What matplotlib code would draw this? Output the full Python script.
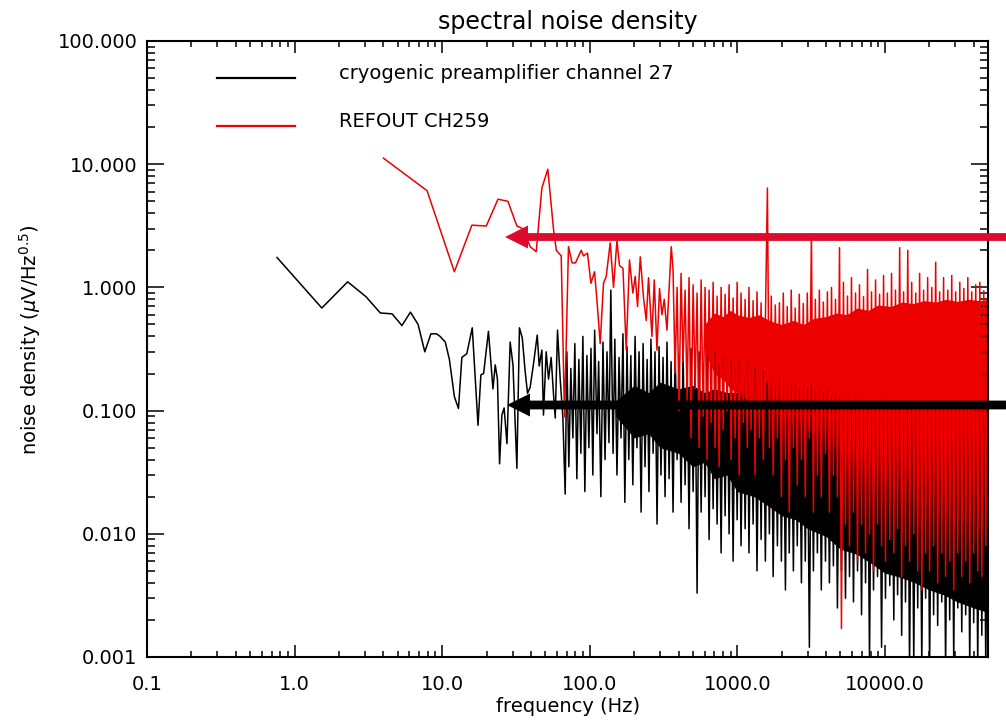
import matplotlib
matplotlib.use('Agg')
import matplotlib.pyplot as plt
from matplotlib.patches import FancyArrow
from matplotlib.ticker import FixedLocator, FixedFormatter, LogLocator, NullFormatter

# ---------------------------------------------------------------------------
# Values (frequency in Hz, density in uV/sqrt(Hz))
# ---------------------------------------------------------------------------

# cryogenic preamp channel 27: resolved low-frequency points
blk_lo_f = [0.76, 1.53, 2.29, 3.05, 3.81, 4.58, 5.34, 6.10, 6.87, 7.63,
            8.39, 9.16, 9.69, 10.5, 11.2, 12.1, 12.9, 13.6, 14.7, 16.0,
            17.5, 18.3, 19.1, 20.6, 22.1, 22.9, 23.7, 24.5, 25.4, 26.3,
            27.5, 28.9, 30.2, 32.1, 33.4, 34.9, 36.5, 37.9, 39.5, 41.6,
            44.1, 45.5, 47.4, 48.6, 50.7, 52.6, 54.8, 56.8, 58.4, 60.5,
            63.1, 65.8, 68.2]
blk_lo_v = [1.75, 0.68, 1.11, 0.84, 0.62, 0.61, 0.49, 0.63, 0.50, 0.30,
            0.42, 0.42, 0.40, 0.36, 0.26, 0.13, 0.104, 0.27, 0.29, 0.47,
            0.076, 0.195, 0.20, 0.44, 0.15, 0.235, 0.18, 0.037, 0.092, 0.105,
            0.054, 0.36, 0.235, 0.034, 0.47, 0.39, 0.21, 0.138, 0.155, 0.24,
            0.41, 0.23, 0.31, 0.092, 0.30, 0.18, 0.27, 0.138, 0.087, 0.45,
            0.18, 0.087, 0.021]

# REFOUT CH259: resolved low-frequency points
red_lo_f = [4.0, 7.9, 12.1, 15.9, 19.9, 23.9, 27.9, 32.1, 35.2, 39.5,
            43.4, 47.4, 52.0, 56.9, 59.4, 64.1, 67.5, 71.8, 76.0, 80.0,
            87.6, 90.8, 96.6, 101.9, 107.8, 111.9, 117.8, 124, 129.4, 137.7,
            145, 152.9, 159.2, 168, 176.8, 186, 196, 203.4, 211, 220,
            231.6, 241.5, 250.4, 264, 273.8, 285.5, 297.3, 308.7, 320, 333.8,
            356.9]
red_lo_v = [11.2, 6.1, 1.34, 3.2, 3.15, 5.2, 5.0, 3.15, 3.0, 2.14,
            1.95, 6.4, 9.1, 2.93, 2.0, 1.8, 0.089, 2.14, 1.58, 1.58,
            2.0, 1.8, 1.9, 1.08, 1.34, 0.79, 0.35, 1.08, 1.23, 2.3,
            1.0, 2.4, 1.5, 1.43, 0.31, 1.67, 0.9, 1.23, 0.7, 1.77,
            0.82, 0.54, 1.2, 0.4, 1.15, 0.31, 0.98, 0.6, 0.8, 0.45,
            2.14]

# dense part of the spectra: frequencies where spike tips were read
dense_f = [70, 72.2, 74.5, 76.9, 79.3, 81.8, 84.4, 87.1, 89.9, 92.7,
           95.7, 98.7, 102, 105, 108, 112, 115, 119, 123, 127,
           131, 135, 139, 144, 148, 153, 158, 163, 168, 173,
           179, 184, 190, 196, 203, 209, 216, 223, 230, 237,
           245, 252, 260, 269, 277, 286, 295, 304, 314, 324,
           334, 345, 356, 367, 379, 391, 403, 416, 429, 443,
           457, 471, 486, 502, 518, 534, 551, 569, 587, 605,
           624, 644, 665, 686, 707, 730, 753, 777, 802, 827,
           853, 880, 908, 937, 967, 998, 1030, 1060, 1100, 1130,
           1170, 1200, 1240, 1280, 1320, 1360, 1410, 1450, 1500, 1550,
           1600, 1650, 1700, 1750, 1810, 1870, 1930, 1990, 2050, 2120,
           2180, 2250, 2320, 2400, 2470, 2550, 2630, 2720, 2800, 2890,
           2980, 3080, 3180, 3280, 3380, 3490, 3600, 3710, 3830, 3960,
           4080, 4210, 4350, 4480, 4630, 4770, 4930, 5080, 5240, 5410,
           5580, 5760, 5940, 6130, 6330, 6530, 6730, 6950, 7170, 7400,
           7630, 7870, 8120, 8380, 8650, 8920, 9210, 9500, 9800, 10100,
           10400, 10800, 11100, 11500, 11800, 12200, 12600, 13000, 13400, 13800,
           14300, 14700, 15200, 15700, 16200, 16700, 17200, 17800, 18300, 18900,
           19500, 20100, 20800, 21400, 22100, 22800, 23500, 24300, 25000, 25800,
           26700, 27500, 28400, 29300, 30200, 31200, 32200, 33200, 34300, 35300,
           36500, 37600, 38800, 40000, 41300, 42600, 44000, 45400, 46800, 48300,
           49900]

# black spike tips on dense_f (alternating highs and lows)
blk_dense_v = [0.30, 0.035, 0.22, 0.060, 0.35, 0.028, 0.26, 0.045, 0.40, 0.022,
               0.28, 0.050, 0.32, 0.030, 0.45, 0.065, 0.25, 0.020, 0.36, 0.040,
               0.30, 0.055, 0.95, 0.045, 0.38, 0.030, 0.27, 0.060, 0.42, 0.018,
               0.33, 0.040, 0.28, 0.025, 0.40, 0.050, 0.30, 0.015, 0.35, 0.035,
               0.26, 0.022, 0.38, 0.045, 0.30, 0.012, 0.33, 0.030, 0.27, 0.020,
               0.36, 0.028, 0.25, 0.015, 0.32, 0.040, 0.28, 0.018, 0.30, 0.025,
               0.26, 0.011, 0.32, 0.022, 0.27, 0.0033, 0.30, 0.015, 0.24, 0.020,
               0.28, 0.009, 0.25, 0.016, 0.30, 0.012, 0.23, 0.007, 0.27, 0.014,
               0.22, 0.010, 0.26, 0.006, 0.21, 0.013, 0.25, 0.008, 0.20, 0.011,
               0.23, 0.007, 0.19, 0.012, 0.22, 0.005, 0.18, 0.009, 0.21, 0.006,
               0.17, 0.010, 0.20, 0.0045, 0.16, 0.008, 0.19, 0.006, 0.17, 0.0035,
               0.18, 0.007, 0.16, 0.005, 0.17, 0.008, 0.15, 0.004, 0.16, 0.006,
               0.15, 0.0012, 0.16, 0.005, 0.14, 0.007, 0.15, 0.0035, 0.14, 0.006,
               0.15, 0.004, 0.13, 0.0055, 0.14, 0.0025, 0.13, 0.005, 0.14, 0.003,
               0.13, 0.0045, 0.12, 0.0028, 0.13, 0.005, 0.12, 0.0022, 0.13, 0.004,
               0.12, 0.0009, 0.13, 0.0035, 0.12, 0.0045, 0.12, 0.0012, 0.13, 0.003,
               0.12, 0.0038, 0.12, 0.0020, 0.12, 0.0032, 0.12, 0.0015, 0.12, 0.0028,
               0.12, 0.0008, 0.12, 0.0009, 0.12, 0.0025, 0.12, 0.0008, 0.12, 0.0030,
               0.12, 0.0008, 0.12, 0.0022, 0.12, 0.0018, 0.12, 0.0028, 0.12, 0.0008,
               0.12, 0.0020, 0.12, 0.0009, 0.12, 0.0025, 0.12, 0.0016, 0.12, 0.0022,
               0.12, 0.0008, 0.12, 0.0019, 0.12, 0.0008, 0.12, 0.0015, 0.12, 0.0008,
               0.10]

# red spike tips on the tail of dense_f (starting at 367 Hz)
red_dense_v = [1.40, 0.20, 1.00, 0.10, 1.30, 0.25, 0.95,
               0.12, 1.20, 0.06, 1.05, 0.15, 0.90, 0.05, 1.15, 0.09, 1.00,
               0.04, 0.95, 0.08, 1.10, 0.05, 0.85, 0.035, 1.00, 0.07, 0.88,
               0.10, 1.05, 0.04, 0.82, 0.06, 1.10, 0.03, 0.90, 0.08, 0.80,
               0.05, 1.00, 0.07, 0.78, 0.03, 0.92, 0.06, 0.75, 0.04, 0.50,
               6.40, 0.05, 0.85, 0.03, 0.72, 0.06, 0.75, 0.02, 0.90, 0.04,
               0.70, 0.015, 0.95, 0.05, 0.68, 0.025, 0.88, 0.04, 0.74, 0.02,
               0.90, 0.06, 2.70, 0.015, 0.80, 0.03, 0.95, 0.02, 0.76, 0.045,
               0.92, 0.015, 1.00, 0.03, 0.80, 0.02, 2.10, 0.0017, 1.10, 0.012,
               0.85, 0.008, 1.20, 0.015, 0.90, 0.006, 1.05, 0.012, 0.84, 0.007,
               1.40, 0.010, 0.92, 0.005, 1.15, 0.012, 0.88, 0.008, 1.25, 0.006,
               0.90, 0.009, 1.30, 0.007, 0.95, 0.011, 2.10, 0.0045, 0.92, 0.008,
               2.00, 0.006, 1.10, 0.010, 0.90, 0.005, 1.30, 0.0035, 0.95, 0.007,
               1.20, 0.005, 1.00, 0.008, 1.60, 0.004, 0.92, 0.007, 1.20, 0.0045,
               0.95, 0.006, 1.25, 0.0035, 0.92, 0.007, 1.10, 0.0045, 0.98, 0.006,
               1.20, 0.004, 0.92, 0.007, 1.05, 0.005, 1.10, 0.0045, 0.94, 0.008,
               1.00]

# solid cores of the dense bands
blk_core_f = [150, 200, 250, 300, 400, 500, 600, 700, 850, 1000,
              1300, 1600, 2000, 2500, 3000, 4000, 5000, 6500, 8000, 10000,
              13000, 16000, 20000, 25000, 31000, 40000, 50000]
blk_core_hi = [0.12, 0.16, 0.14, 0.17, 0.15, 0.16, 0.14, 0.15, 0.14, 0.14,
               0.13, 0.13, 0.12, 0.12, 0.11, 0.11, 0.11, 0.11, 0.11, 0.11,
               0.11, 0.11, 0.11, 0.11, 0.11, 0.11, 0.11]
blk_core_lo = [0.09, 0.06, 0.065, 0.05, 0.045, 0.035, 0.038, 0.028, 0.03, 0.022,
               0.02, 0.017, 0.014, 0.013, 0.011, 0.0095, 0.0075, 0.0068, 0.0058, 0.0048,
               0.0044, 0.004, 0.0035, 0.0032, 0.0028, 0.0025, 0.0023]

red_core_f = [600, 700, 800, 900, 1000, 1200, 1400, 1700, 2000, 2400,
              2800, 3300, 4000, 4700, 5500, 6500, 7700, 9000, 11000, 13000,
              15500, 18500, 22000, 26000, 31000, 37000, 44000, 50000]
red_core_hi = [0.50, 0.62, 0.58, 0.65, 0.60, 0.57, 0.60, 0.53, 0.50, 0.54,
               0.50, 0.56, 0.58, 0.62, 0.60, 0.68, 0.65, 0.72, 0.70, 0.76,
               0.74, 0.78, 0.76, 0.80, 0.77, 0.80, 0.78, 0.80]
red_core_lo = [0.30, 0.20, 0.18, 0.15, 0.14, 0.12, 0.11, 0.10, 0.09, 0.08,
               0.075, 0.065, 0.055, 0.05, 0.042, 0.036, 0.032, 0.028, 0.024, 0.021,
               0.019, 0.017, 0.015, 0.014, 0.013, 0.012, 0.011, 0.011]

x_ticks = [0.1, 1, 10, 100, 1000, 10000]
x_tick_labels = ['0.1', '1.0', '10.0', '100.0', '1000.0', '10000.0']
y_ticks = [0.001, 0.01, 0.1, 1, 10, 100]
y_tick_labels = ['0.001', '0.010', '0.100', '1.000', '10.000', '100.000']

series_names = ['cryogenic preamplifier channel 27', 'REFOUT CH259']

assert len(dense_f) == len(blk_dense_v)
red_dense_f = dense_f[len(dense_f) - len(red_dense_v):]

BLACK = 'black'
RED = '#ec0000'

plt.rcParams['font.family'] = 'DejaVu Sans'
W, H = 1006, 721
fig = plt.figure(figsize=(W / 100, H / 100), dpi=100)
ax = fig.add_axes([147 / W, 64 / H, 841 / W, 616 / H])

# black trace first, red drawn on top
ax.fill_between(blk_core_f, blk_core_lo, blk_core_hi, color=BLACK, lw=0)
ax.plot(blk_lo_f + dense_f, blk_lo_v + blk_dense_v, color=BLACK, lw=1.1)
ax.fill_between(red_core_f, red_core_lo, red_core_hi, color=RED, lw=0)
ax.plot(red_lo_f + red_dense_f, red_lo_v + red_dense_v, color=RED, lw=1.1)

ax.set_xscale('log')
ax.set_yscale('log')
ax.set_xlim(0.1, 50000)
ax.set_ylim(0.001, 100)

ax.xaxis.set_major_locator(FixedLocator(x_ticks))
ax.xaxis.set_major_formatter(FixedFormatter(x_tick_labels))
ax.yaxis.set_major_locator(FixedLocator(y_ticks))
ax.yaxis.set_major_formatter(FixedFormatter(y_tick_labels))
ax.xaxis.set_minor_locator(LogLocator(base=10, subs=range(2, 10), numticks=20))
ax.yaxis.set_minor_locator(LogLocator(base=10, subs=range(2, 10), numticks=20))
ax.xaxis.set_minor_formatter(NullFormatter())
ax.yaxis.set_minor_formatter(NullFormatter())

ax.tick_params(which='both', direction='in', top=True, right=True, width=1.1,
               labelsize=14)
ax.tick_params(axis='x', which='major', length=8.6, pad=13)
ax.tick_params(axis='x', which='minor', length=4.3)
ax.tick_params(axis='y', which='major', length=12.2, pad=7)
ax.tick_params(axis='y', which='minor', length=6.1)
for sp in ax.spines.values():
    sp.set_linewidth(1.5)

ax.set_title('spectral noise density', fontsize=17, pad=8.5)
fig.text(568 / W, 1 - 712 / H, 'frequency (Hz)', fontsize=14,
         ha='center', va='baseline')
fig.text(30 / W, 1 - 340 / H, r'noise density ($\mu$V/Hz$^{0.5}$)',
         fontsize=14, rotation=90, ha='center', va='center')

# legend, drawn IDL style
for (y_line, y_text), name, col in zip([(0.940, 0.948), (0.862, 0.870)],
                                       series_names, [BLACK, RED]):
    ax.plot([0.083, 0.176], [y_line, y_line], color=col, lw=1.6,
            transform=ax.transAxes)
    ax.text(0.228, y_text, name, fontsize=14, transform=ax.transAxes,
            va='center', ha='left')

# the two pointer arrows overlaid on the figure (inch coordinates)
for y_px, tip_px, col, shaft in [(237, 505, '#dc0a2c', 0.078),
                                 (405, 507, BLACK, 0.088)]:
    y_in = (H - y_px) / 100
    arr = FancyArrow(W / 100 + 0.05, y_in, -(W / 100 + 0.05 - tip_px / 100), 0,
                     width=shaft, head_width=0.23, head_length=0.23,
                     length_includes_head=True, color=col, lw=0,
                     transform=fig.dpi_scale_trans, clip_on=False)
    fig.add_artist(arr)

fig.savefig('out.png', dpi=100)
